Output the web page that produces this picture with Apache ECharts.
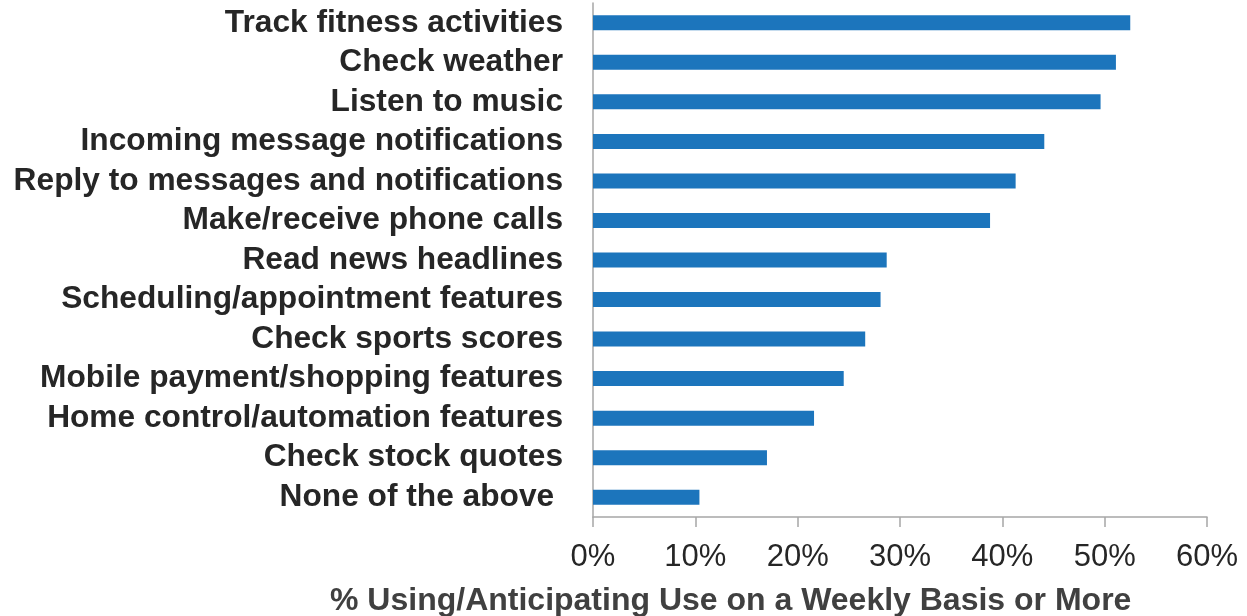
<!DOCTYPE html>
<html>
<head>
<meta charset="utf-8">
<script src="https://cdn.jsdelivr.net/npm/echarts@6/dist/echarts.min.js"></script>
<style>
  html, body { margin: 0; padding: 0; background: #fff; }
  #chart { width: 1247px; height: 616px; }
</style>
</head>
<body>
<div id="chart"></div>
<script>
// Smartwatch features used weekly or more (top to bottom)
const categories = [
  'Track fitness activities',
  'Check weather',
  'Listen to music',
  'Incoming message notifications',
  'Reply to messages and notifications',
  'Make/receive phone calls',
  'Read news headlines',
  'Scheduling/appointment features',
  'Check sports scores',
  'Mobile payment/shopping features',
  'Home control/automation features',
  'Check stock quotes',
  'None of the above '
];
const shareWeekly = [52.5, 51.1, 49.6, 44.1, 41.3, 38.8, 28.7, 28.1, 26.6, 24.5, 21.6, 17.0, 10.4];
const xTicks = [0, 10, 20, 30, 40, 50, 60];
const axisTitle = '% Using/Anticipating Use on a Weekly Basis or More';

const chart = echarts.init(document.getElementById('chart'), null, { renderer: 'canvas' });
const fontFamily = '"Liberation Sans", Arial, sans-serif';

chart.setOption({
  animation: false,
  backgroundColor: '#ffffff',
  title: {
    text: axisTitle,
    left: 330,
    top: 585,
    padding: 0,
    textStyle: { fontFamily, fontSize: 32, fontWeight: 'bold', color: '#404040' }
  },
  grid: { left: 593, right: 40, top: 3, bottom: 99, containLabel: false },
  xAxis: {
    type: 'value',
    min: xTicks[0],
    max: xTicks[xTicks.length - 1],
    interval: 10,
    axisLine: { show: true, lineStyle: { color: '#a6a6a6', width: 1.5 } },
    axisTick: { show: true, length: 10, lineStyle: { color: '#a6a6a6', width: 1.5 } },
    splitLine: { show: false },
    axisLabel: {
      margin: 25,
      formatter: v => v + '%',
      fontFamily, fontSize: 31, color: '#262626'
    }
  },
  yAxis: {
    type: 'category',
    inverse: true,
    data: categories,
    axisLine: { show: true, lineStyle: { color: '#a6a6a6', width: 1.5 } },
    axisTick: { show: false },
    axisLabel: {
      interval: 0,
      hideOverlap: false,
      margin: 30,
      fontFamily, fontSize: 31.7, fontWeight: 'bold', color: '#262626'
    }
  },
  series: [{
    type: 'bar',
    data: shareWeekly,
    barWidth: 15,
    itemStyle: { color: '#1c75bc' }
  }]
});
</script>
</body>
</html>
